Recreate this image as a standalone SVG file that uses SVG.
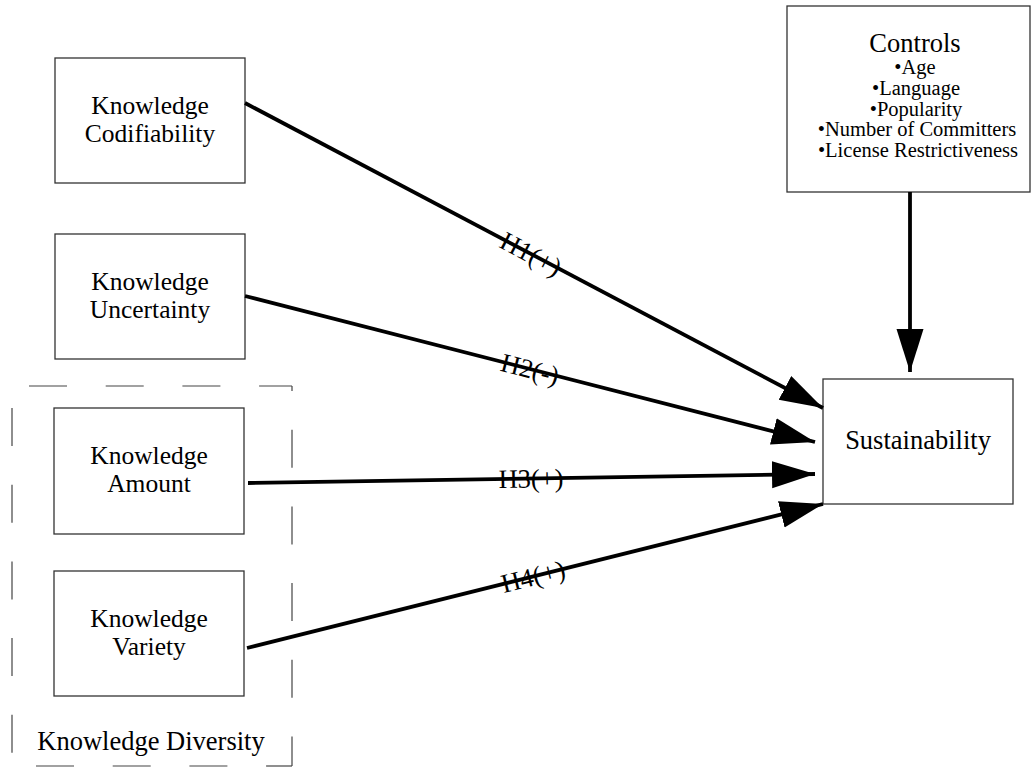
<svg xmlns="http://www.w3.org/2000/svg" width="1032" height="768" viewBox="0 0 1032 768">
<defs>
<style>
.box{fill:#fff;stroke:#333;stroke-width:1.3}
.t{font-family:"Liberation Serif","Times New Roman",serif;font-size:26.5px;fill:#000;text-anchor:middle}
.n{font-size:25.5px}
.s{font-size:20.5px}
.edge{stroke:#000;stroke-width:3.8;fill:none;marker-end:url(#ah)}
.dash{stroke:#444;stroke-width:1.2;stroke-dasharray:38 38.7;fill:none}
</style>
<marker id="ah" markerUnits="userSpaceOnUse" markerWidth="44" markerHeight="28" refX="43" refY="13.5" orient="auto" viewBox="0 0 44 28">
<path d="M0,0 L43,13.5 L0,27 Z" fill="#000"/>
</marker>
</defs>
<rect width="1032" height="768" fill="#fff"/>

<g id="knowledge-diversity">
<line class="dash" x1="12" y1="386" x2="292" y2="386" stroke-dashoffset="59.7"/>
<line class="dash" x1="292" y1="386" x2="292" y2="766" stroke-dashoffset="33"/>
<line class="dash" x1="12" y1="766" x2="292" y2="766" stroke-dashoffset="52.7"/>
<line class="dash" x1="12" y1="386" x2="12" y2="766" stroke-dashoffset="54.7"/>
<text class="t" x="151" y="750">Knowledge Diversity</text>
</g>

<g id="codifiability">
<rect class="box" x="55" y="58" width="190" height="125"/>
<text class="t n" x="150" y="114">Knowledge<tspan x="150" dy="28">Codifiability</tspan></text>
</g>

<g id="uncertainty">
<rect class="box" x="55" y="234" width="190" height="125"/>
<text class="t n" x="150" y="290">Knowledge<tspan x="150" dy="28">Uncertainty</tspan></text>
</g>

<g id="amount">
<rect class="box" x="54" y="408" width="190" height="126"/>
<text class="t n" x="149" y="464">Knowledge<tspan x="149" dy="28">Amount</tspan></text>
</g>

<g id="variety">
<rect class="box" x="54" y="571" width="190" height="125"/>
<text class="t n" x="149" y="627">Knowledge<tspan x="149" dy="28">Variety</tspan></text>
</g>

<g id="sustainability">
<rect class="box" x="823" y="379" width="190" height="125"/>
<text class="t" x="918" y="449">Sustainability</text>
</g>

<g id="controls">
<rect class="box" x="787" y="6" width="243" height="186"/>
<text class="t" x="915" y="52">Controls<tspan class="s" x="915" dy="22">•Age</tspan><tspan class="s" x="916" dy="21">•Language</tspan><tspan class="s" x="916" dy="20.5">•Popularity</tspan><tspan class="s" x="917" dy="20.5">•Number of Committers</tspan><tspan class="s" x="918" dy="21">•License Restrictiveness</tspan></text>
</g>

<g id="connectors">
<line class="edge" x1="910" y1="192" x2="910" y2="372"/>
<line class="edge" x1="245" y1="103" x2="823" y2="408"/>
<line class="edge" x1="245" y1="296" x2="815" y2="442"/>
<line class="edge" x1="248" y1="483" x2="815" y2="474"/>
<line class="edge" x1="247" y1="648" x2="823" y2="504"/>
<text class="t" transform="translate(531,254) rotate(27.8)" y="9">H1(+)</text>
<text class="t" transform="translate(530,369) rotate(14.4)" y="9">H2(-)</text>
<text class="t" transform="translate(531,478.5) rotate(-0.9)" y="9">H3(+)</text>
<text class="t" transform="translate(533,576.5) rotate(-14)" y="9">H4(+)</text>
</g>
</svg>
